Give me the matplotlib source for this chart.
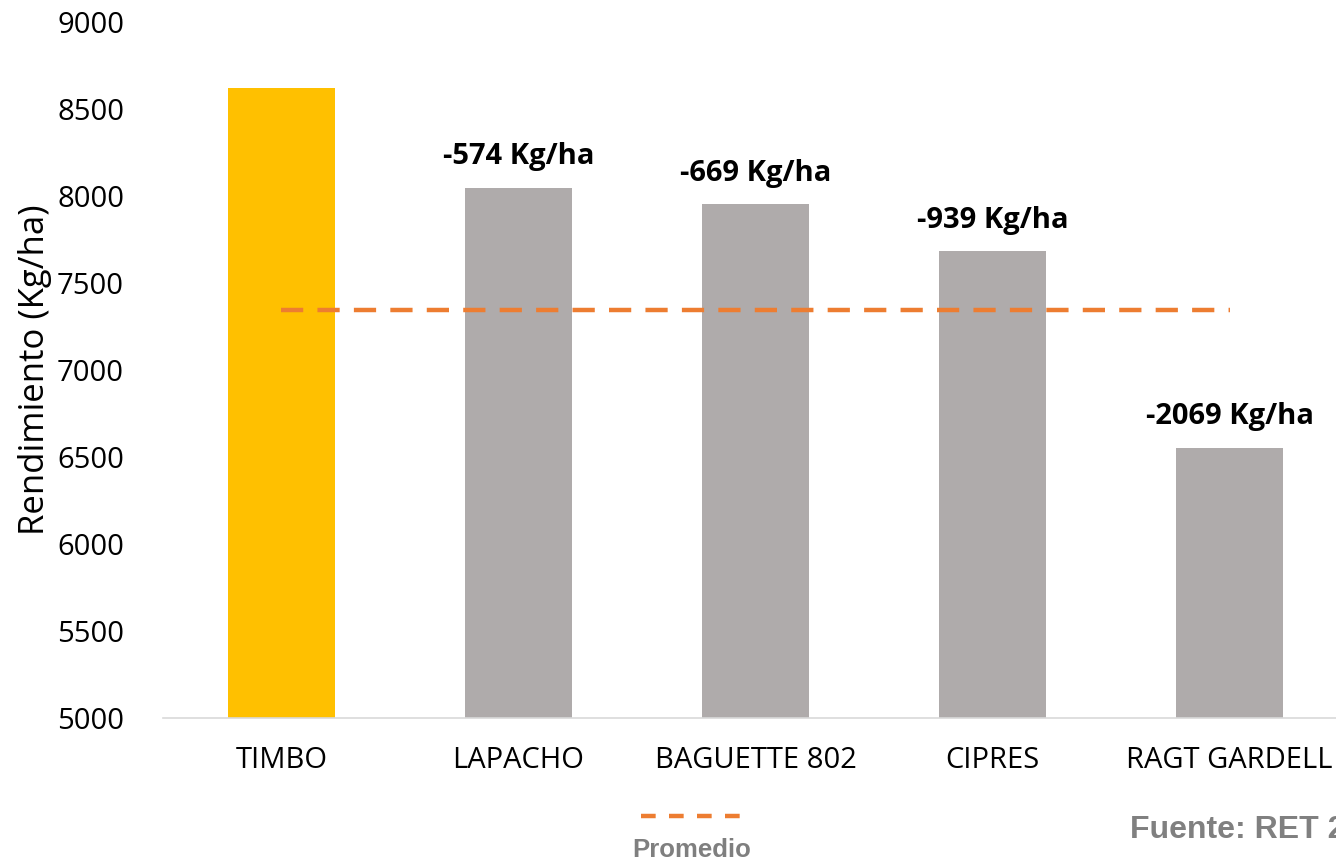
import matplotlib.pyplot as plt
from matplotlib.lines import Line2D

# data
varieties = ["TIMBO", "LAPACHO", "BAGUETTE 802", "CIPRES", "RAGT GARDELL"]
yields = [8620, 8046, 7951, 7681, 6551]
diff_labels = ["", "-574 Kg/ha", "-669 Kg/ha", "-939 Kg/ha", "-2069 Kg/ha"]
promedio = 7345
bar_colors = ["#FFC000", "#AFABAB", "#AFABAB", "#AFABAB", "#AFABAB"]

plt.rcParams["font.family"] = ["Open Sans", "DejaVu Sans"]

fig = plt.figure(figsize=(13.36, 8.65), dpi=100)
ax = fig.add_axes([0.122, 0.170, 0.887, 0.8046])

x = list(range(len(varieties)))
bars = ax.bar(x, yields, width=0.45, color=bar_colors, zorder=2)

ax.plot([x[0], x[-1]], [promedio, promedio], color="#ED7D31", lw=3.2,
        dashes=(5.0, 3.2), zorder=3)

for xi, val, lab in zip(x, yields, diff_labels):
    if lab:
        ax.annotate(lab, (xi, val), xytext=(0, 12), textcoords="offset points",
                    ha="center", va="bottom", fontsize=21, fontweight="bold")

ax.set_xlim(-0.5, 4.5)
ax.set_ylim(5000, 9000)
ax.set_yticks(range(5000, 9001, 500))
ax.set_xticks(x)
ax.set_xticklabels(varieties)
ax.tick_params(axis="both", length=0, labelsize=21)
ax.tick_params(axis="x", pad=20)
ax.tick_params(axis="y", pad=28)
ax.set_ylabel("Rendimiento (Kg/ha)", fontsize=25, labelpad=4)

for side in ["top", "right", "left"]:
    ax.spines[side].set_visible(False)
ax.spines["bottom"].set_color("#D9D9D9")
ax.spines["bottom"].set_linewidth(1.2)

# legend drawn by hand: dashed key above its label
fig.add_artist(Line2D([0.480, 0.555], [0.0565, 0.0565], transform=fig.transFigure,
                      color="#ED7D31", lw=3.2, dashes=(3.3, 3.0)))
fig.text(0.5175, 0.017, "Promedio", ha="center", va="center", fontsize=18.5,
         fontweight="bold", color="#7F7F7F", family=["Liberation Sans", "DejaVu Sans"])

fig.text(0.8458, 0.040, "Fuente: RET 2020", ha="left", va="center", fontsize=23,
         fontweight="bold", color="#808080", family=["Liberation Sans", "DejaVu Sans"])

fig.savefig("out.png", dpi=100)
